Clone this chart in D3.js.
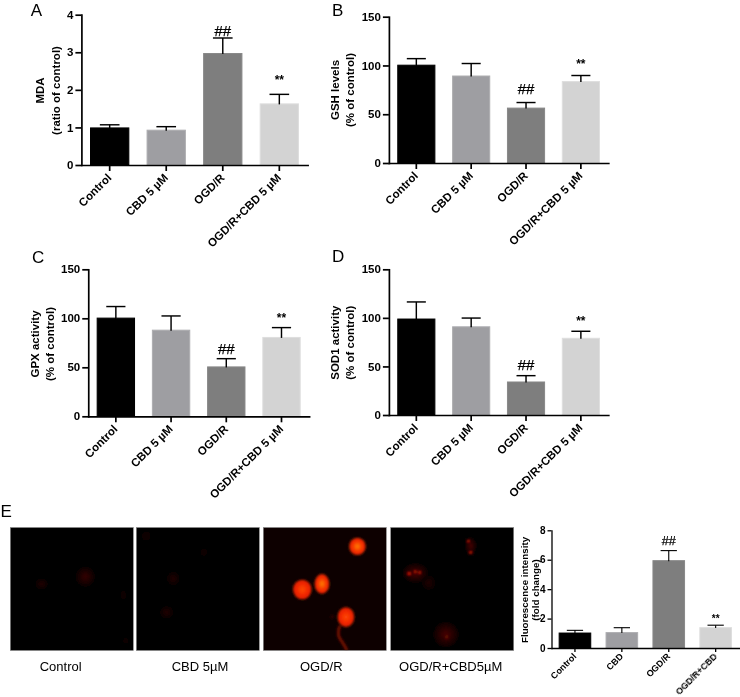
<!DOCTYPE html>
<html><head><meta charset="utf-8">
<script src="https://cdnjs.cloudflare.com/ajax/libs/d3/7.8.5/d3.min.js"></script>
<style>
html,body{margin:0;padding:0;background:#fff}
svg{display:block}
text{font-family:"Liberation Sans",Arial,sans-serif;fill:#000}
</style></head><body>
<svg id="c" width="740" height="697"></svg>
<script>
// ---------- data ----------
const categoriesLong = ["Control","CBD 5 µM","OGD/R","OGD/R+CBD 5 µM"];
const categoriesShort = ["Control","CBD","OGD/R","OGD/R+CBD"];
const imageLabels = ["Control","CBD 5µM","OGD/R","OGD/R+CBD5µM"];

const mdaValues = [1.0,0.94,2.98,1.64];
const mdaErrorTop = [1.07,1.02,3.38,1.88];
const gshValues = [100.8,89.7,56.8,84];
const gshErrorTop = [107,102,62,89.7];
const gpxValues = [100.7,88.4,50.9,81];
const gpxErrorTop = [112,102.4,58.8,90.5];
const sodValues = [99.3,91.3,34.5,79.5];
const sodErrorTop = [116.4,99.8,40.5,86.2];
const fluoValues = [1.05,1.08,5.97,1.42];
const fluoErrorTop = [1.2,1.38,6.62,1.55];

const mdaTicks = [0,1,2,3,4];
const percentTicks = [0,50,100,150];
const fluoTicks = [0,2,4,6,8];

// ---------- layout ----------
const svg = d3.select("#c");
const defs = svg.append("defs");
defs.append("filter").attr("id","soft").attr("x","-5%").attr("y","-5%").attr("width","110%").attr("height","110%")
  .append("feGaussianBlur").attr("stdDeviation",0.3);
defs.append("filter").attr("id","cellBlur").attr("x","-50%").attr("y","-50%").attr("width","200%").attr("height","200%")
  .append("feGaussianBlur").attr("stdDeviation",1.2);
const root = svg.append("g").attr("filter","url(#soft)");
root.append("rect").attr("width",740).attr("height",697).attr("fill","#fff");

const barFill = ["#000000","#9e9ea2","#7e7e7e","#d3d3d3"];
const barEdge = ["#000000","#adadb0","#888888","#dedede"];

function drawPanel(o){
  const x = d3.scaleBand().domain(o.cats).range([o.x0,o.x1]).paddingInner(0.305).paddingOuter(0.1525);
  const y = d3.scaleLinear().domain([0,o.max]).range([o.yB,o.yT]);
  const g = root.append("g");
  const cx = c => x(c)+x.bandwidth()/2;
  o.cats.forEach((c,i)=>{
    g.append("rect").attr("x",x(c)+0.5).attr("y",y(o.vals[i])+0.5)
      .attr("width",x.bandwidth()-1).attr("height",y(0)-y(o.vals[i])-0.5)
      .attr("fill",barFill[i]).attr("stroke",barEdge[i]).attr("stroke-width",1);
    const capHalf = x.bandwidth()/4;
    g.append("line").attr("x1",cx(c)).attr("x2",cx(c)).attr("y1",y(o.vals[i])+1).attr("y2",y(o.errs[i]))
      .attr("stroke","#000").attr("stroke-width",o.sw*0.85);
    g.append("line").attr("x1",cx(c)-capHalf).attr("x2",cx(c)+capHalf).attr("y1",y(o.errs[i])).attr("y2",y(o.errs[i]))
      .attr("stroke","#000").attr("stroke-width",o.sw*0.85);
  });
  const ay = g.append("g").attr("transform",`translate(${o.x0},0)`)
    .call(d3.axisLeft(y).tickValues(o.ticks).tickFormat(d3.format("d")).tickSize(o.tick).tickSizeOuter(0).tickPadding(o.pad));
  const ax = g.append("g").attr("transform",`translate(0,${o.yB})`)
    .call(d3.axisBottom(x).tickSize(o.tick).tickSizeOuter(0));
  [ay,ax].forEach(a=>{
    a.selectAll("path,line").attr("stroke","#000").attr("stroke-width",o.sw);
    a.select("path").attr("stroke-linecap","square");
  });
  ay.selectAll("text").attr("font-size",o.fs).attr("font-weight","bold")
    .style("font-family",'"Liberation Sans",Arial,sans-serif').attr("fill","#000");
  ax.selectAll("text").attr("font-size",o.xfs).attr("font-weight","bold")
    .style("font-family",'"Liberation Sans",Arial,sans-serif').attr("fill","#000")
    .attr("text-anchor","end").attr("dy",0).attr("y",0)
    .attr("transform",`translate(${o.lx},${o.ly}) rotate(-45)`);
  // axis titles
  o.title.forEach((t,i)=>{
    g.append("text").attr("transform",`translate(${o.titleX[i]},${o.titleY}) rotate(-90)`)
      .attr("text-anchor","middle").attr("font-weight","bold").attr("font-size",o.tfs).text(t);
  });
  // significance marks, read in data units
  g.append("text").attr("x",cx(o.cats[2])).attr("y",y(o.hash)).attr("text-anchor","middle")
    .attr("font-size",o.hfs).attr("stroke","#000").attr("stroke-width",0.25).text("##");
  g.append("text").attr("x",cx(o.cats[3])).attr("y",y(o.star)+o.sfs*0.52).attr("text-anchor","middle")
    .attr("font-size",o.sfs).attr("font-weight","bold").text("**");
}

const big = {cats:categoriesLong,sw:1.7,tick:6,pad:2,fs:11.5,xfs:11.5,tfs:11.5,hfs:15,sfs:12,lx:2.5,ly:13.5};
drawPanel({...big,x0:81.4,x1:307.6,yT:14.7,yB:165,max:4,ticks:mdaTicks,vals:mdaValues,errs:mdaErrorTop,
  title:["MDA","(ratio of control)"],titleX:[44,59.5],titleY:90.5,hash:3.44,star:2.33});
drawPanel({...big,x0:388.9,x1:608.3,yT:16.7,yB:163,max:150,ticks:percentTicks,vals:gshValues,errs:gshErrorTop,
  title:["GSH levels","(% of control)"],titleX:[339,354],titleY:90,hash:70.9,star:103.4});
drawPanel({...big,x0:88.25,x1:309.1,yT:269.3,yB:416.3,max:150,ticks:percentTicks,vals:gpxValues,errs:gpxErrorTop,
  title:["GPX activity","(% of control)"],titleX:[39,53.5],titleY:344,hash:63.6,star:102.4});
drawPanel({...big,x0:388.9,x1:608.3,yT:269.3,yB:415,max:150,ticks:percentTicks,vals:sodValues,errs:sodErrorTop,
  title:["SOD1 activity","(% of control)"],titleX:[339,354],titleY:342.7,hash:46.3,star:99.5});
drawPanel({cats:categoriesShort,sw:1.3,tick:4,pad:2,fs:10,xfs:9,tfs:9.8,hfs:12.6,sfs:10,lx:2,ly:9,
  x0:551.5,x1:739.1,yT:530.3,yB:648,max:8,ticks:fluoTicks,vals:fluoValues,errs:fluoErrorTop,
  title:["Fluorescence intensity","(fold change)"],titleX:[527.5,539],titleY:590,hash:7.0,star:2.1});

// panel letters
[["A",30.7,15.5],["B",332,15.5],["C",32,262.7],["D",332,261.7],["E",0.5,516.7]].forEach(d=>{
  root.append("text").attr("x",d[1]).attr("y",d[2]).attr("font-size",17).text(d[0]);
});

// ---------- fluorescence micrographs ----------
const imageX = [10.3,136.3,263.3,390.7];
const imageSide = 123;
const imageTop = 527.5;
const imageBase = ["#040000","#040000","#0e0100","#040000"];
const tones = {
  dim:["#340505","#140101"], faint:["#200303","#0c0101"], ghost:["#120202","#080000"],
  bright:["#ff8000","#f52a00"], hot:["#ff4a08","#f02400"], cloud:["#460703","#1c0100"],
  spot:["#ff2a10","#b01000"], smear:["#901005","#3a0501"]
};
const cellsByImage = [
  [[.61,.40,.085,.09,"dim"],[.255,.46,.06,.055,"faint"],[.92,.55,.03,.05,"ghost"],[.94,.92,.03,.03,"ghost"]],
  [[.30,.415,.06,.065,"faint"],[.247,.69,.065,.06,"faint"],[.08,.07,.05,.05,"ghost"],[.55,.2,.04,.04,"ghost"]],
  [[.765,.154,.067,.07,"bright"],[.317,.504,.075,.08,"hot"],[.477,.458,.06,.08,"bright"],[.672,.728,.068,.08,"hot"],[.56,.725,.018,.018,"cloud"]],
  [[.65,.15,.05,.075,"cloud"],[.63,.11,.01,.01,"spot"],[.65,.205,.014,.01,"spot"],
   [.2,.37,.11,.085,"cloud"],[.15,.375,.015,.012,"spot"],[.2,.36,.01,.01,"spot"],[.235,.365,.01,.01,"spot"],
   [.31,.45,.065,.07,"faint"],[.45,.87,.11,.11,"cloud"],[.455,.89,.018,.03,"smear"]]
];
Object.entries(tones).forEach(([k,t])=>{
  const gr = defs.append("radialGradient").attr("id","tone-"+k);
  gr.append("stop").attr("offset","0%").attr("stop-color",t[0]);
  gr.append("stop").attr("offset","65%").attr("stop-color",t[1]);
  gr.append("stop").attr("offset","100%").attr("stop-color",t[1]).attr("stop-opacity",k==="bright"||k==="hot"||k==="spot"?0.9:0);
});
imageX.forEach((ix,i)=>{
  const sx = d3.scaleLinear().domain([0,1]).range([ix,ix+imageSide]);
  const sy = d3.scaleLinear().domain([0,1]).range([imageTop,imageTop+imageSide]);
  const clipId = "clip"+i;
  defs.append("clipPath").attr("id",clipId).append("rect").attr("x",ix).attr("y",imageTop).attr("width",imageSide).attr("height",imageSide);
  root.append("rect").attr("x",ix).attr("y",imageTop).attr("width",imageSide).attr("height",imageSide).attr("fill",imageBase[i]);
  const g = root.append("g").attr("clip-path",`url(#${clipId})`).append("g").attr("filter","url(#cellBlur)");
  if(i===2){
    g.append("path").attr("d",d3.line().curve(d3.curveBasis)(
      [[.62,.80],[.6,.88],[.65,.94],[.68,1.0]].map(p=>[sx(p[0]),sy(p[1])])))
      .attr("fill","none").attr("stroke","#701000").attr("stroke-width",3);
  }
  g.selectAll("ellipse").data(cellsByImage[i]).enter().append("ellipse")
    .attr("cx",d=>sx(d[0])).attr("cy",d=>sy(d[1]))
    .attr("rx",d=>d[2]*imageSide).attr("ry",d=>d[3]*imageSide)
    .attr("fill",d=>`url(#tone-${d[4]})`);
  root.append("rect").attr("x",ix).attr("y",imageTop).attr("width",imageSide).attr("height",imageSide)
    .attr("fill","none").attr("stroke","#8a8a8a").attr("stroke-width",0.6);
  root.append("text").attr("x",[60.7,200,321.3,450.7][i]).attr("y",670.5).attr("text-anchor","middle")
    .attr("font-size",13).text(imageLabels[i]);
});
</script></body></html>
